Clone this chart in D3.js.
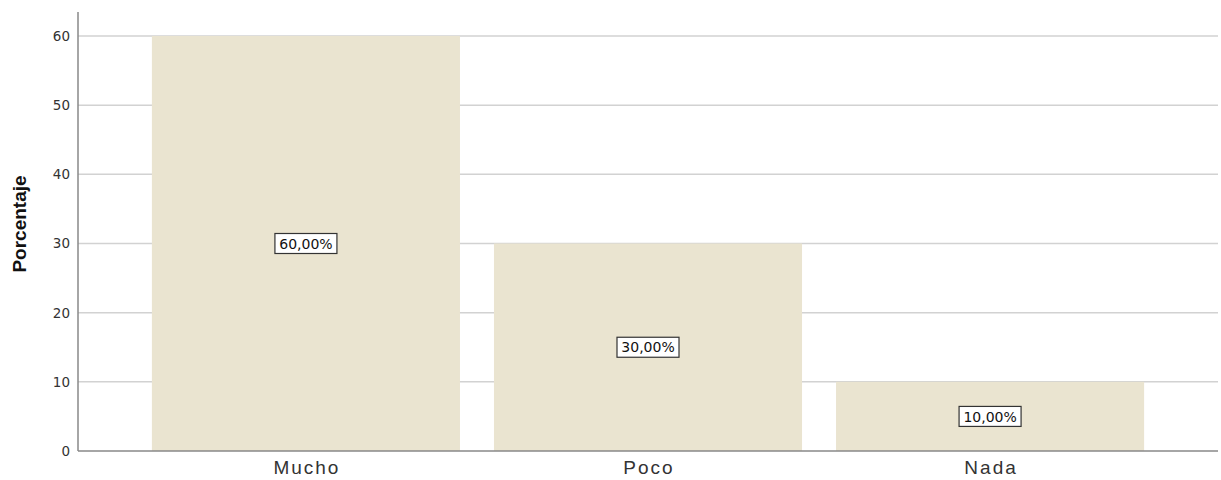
<!DOCTYPE html>
<html>
<head>
<meta charset="utf-8">
<script src="https://cdn.jsdelivr.net/npm/d3@7"></script>
<style>
body { margin: 0; background: #fff; }
text { font-family: "DejaVu Sans", Verdana, sans-serif; }
</style>
</head>
<body>
<svg id="chart" width="1221" height="480"></svg>
<script>
var categories = ["Mucho", "Poco", "Nada"];
var values = [60, 30, 10];
var labels = ["60,00%", "30,00%", "10,00%"];
var yTicks = [0, 10, 20, 30, 40, 50, 60];

var svg = d3.select("#chart");
var plotLeft = 78, plotRight = 1218, plotTop = 12, plotBottom = 451;

var x = d3.scaleBand()
    .domain(categories)
    .range([plotLeft, plotRight])
    .paddingInner(0.0994)
    .paddingOuter(0.216);

var y = d3.scaleLinear().domain([0, 60]).range([plotBottom, 36]);

// gridlines
svg.append("g").selectAll("line")
    .data(yTicks.filter(function(d) { return d > 0; }))
    .enter().append("line")
    .attr("x1", plotLeft).attr("x2", plotRight)
    .attr("y1", function(d) { return y(d); })
    .attr("y2", function(d) { return y(d); })
    .attr("stroke", "#d2d2d2").attr("stroke-width", 1.5);

// bars
svg.append("g").selectAll("rect")
    .data(values)
    .enter().append("rect")
    .attr("x", function(d, i) { return x(categories[i]); })
    .attr("width", x.bandwidth())
    .attr("y", function(d) { return y(d); })
    .attr("height", function(d) { return plotBottom - y(d); })
    .attr("fill", "#eae4d0");

// axes
svg.append("line").attr("x1", plotLeft).attr("x2", plotLeft).attr("y1", plotTop).attr("y2", plotBottom)
    .attr("stroke", "#888").attr("stroke-width", 1.5);
svg.append("line").attr("x1", plotLeft).attr("x2", plotRight).attr("y1", plotBottom).attr("y2", plotBottom)
    .attr("stroke", "#888").attr("stroke-width", 1.5);

// y tick labels
svg.append("g").selectAll("text")
    .data(yTicks)
    .enter().append("text")
    .attr("x", 70)
    .attr("y", function(d) { return y(d); })
    .attr("dy", "0.36em")
    .attr("text-anchor", "end")
    .attr("font-size", 13.5)
    .attr("fill", "#333")
    .text(function(d) { return d; });

// x labels
svg.append("g").selectAll("text")
    .data(categories)
    .enter().append("text")
    .attr("x", function(d) { return x(d) + x.bandwidth() / 2 + 1; })
    .attr("y", 474)
    .attr("text-anchor", "middle")
    .attr("font-size", 19)
    .attr("letter-spacing", 2)
    .style("font-family", "'Liberation Sans', Arial, sans-serif")
    .attr("fill", "#333")
    .text(function(d) { return d; });

// y title
svg.append("text")
    .attr("transform", "translate(26,224) rotate(-90)")
    .attr("text-anchor", "middle")
    .attr("font-size", 19)
    .attr("font-weight", "bold")
    .style("font-family", "'Liberation Sans', Arial, sans-serif")
    .attr("fill", "#111")
    .text("Porcentaje");

// value labels with boxes
var lab = svg.append("g").selectAll("g")
    .data(values)
    .enter().append("g")
    .attr("transform", function(d, i) {
        return "translate(" + (x(categories[i]) + x.bandwidth() / 2) + "," + y(d / 2) + ")";
    });
lab.append("rect")
    .attr("x", -31).attr("y", -10)
    .attr("width", 62).attr("height", 20)
    .attr("fill", "#fff").attr("stroke", "#333").attr("stroke-width", 1.2);
lab.append("text")
    .attr("text-anchor", "middle")
    .attr("dy", "0.37em")
    .attr("font-size", 14)
    .attr("fill", "#111")
    .text(function(d, i) { return labels[i]; });
</script>
</body>
</html>
